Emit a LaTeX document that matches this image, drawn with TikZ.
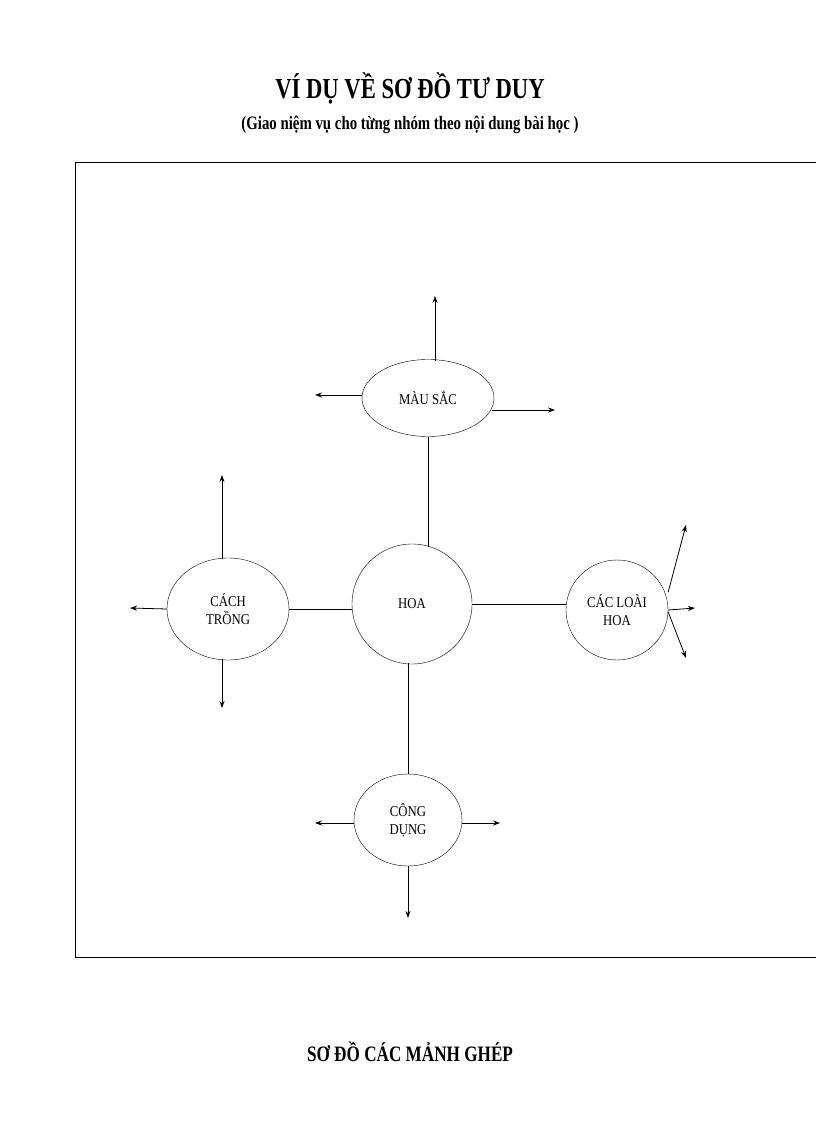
\documentclass[tikz,border=0pt]{standalone}
\usepackage{fontspec}
\setmainfont{Liberation Serif}
\usetikzlibrary{shapes.geometric,arrows.meta}
\begin{document}
\begin{tikzpicture}[x=1pt,y=-1pt,
 bub/.style={draw,ellipse,inner sep=0pt,align=center,font=\fontsize{15}{18}\selectfont},
 arr/.style={-{Stealth[length=7pt,width=5pt]},line width=0.8pt},
 lnk/.style={line width=0.6pt}]
\useasboundingbox (0,0) rectangle (816,1123);
\draw[line width=0.8pt] (816,162) -- (75,162) -- (75,957) -- (816,957);
\node[font=\bfseries\fontsize{29}{32}\selectfont] (t1) at (410,88) {\scalebox{0.78}[1]{VÍ DỤ VỀ SƠ ĐỒ TƯ DUY}};
\node[font=\bfseries\fontsize{19}{22}\selectfont] (t2) at (410,125) {\scalebox{0.78}[1]{(Giao niệm vụ cho từng nhóm theo nội dung bài học )}};
\node[font=\bfseries\fontsize{22}{26}\selectfont] (t3) at (410,1052) {\scalebox{0.78}[1]{SƠ ĐỒ CÁC MẢNH GHÉP}};
\node[bub,minimum width=132,minimum height=77] (ms) at (428,398) {\scalebox{0.85}[1]{MÀU SẮC}};
\node[bub,minimum width=120,minimum height=120] (hoa) at (412,604) {\scalebox{0.85}[1]{HOA}};
\node[bub,minimum width=122,minimum height=102] (ct) at (228,609) {\scalebox{0.85}[1]{CÁCH}\\\scalebox{0.85}[1]{TRỒNG}};
\node[bub,minimum width=102,minimum height=100] (cl) at (617,610) {\scalebox{0.85}[1]{CÁC LOÀI}\\\scalebox{0.85}[1]{HOA}};
\node[bub,minimum width=108,minimum height=92] (cd) at (408,820) {\scalebox{0.85}[1]{CÔNG}\\\scalebox{0.85}[1]{DỤNG}};
\coordinate (h1) at (428,547);
\coordinate (h2) at (408,663);
\draw[lnk] (ms.south) -- (h1);
\draw[lnk] (ct.east) -- (ct.east -| hoa.west);
\draw[lnk] (hoa.east) -- (hoa.east -| cl.west);
\draw[lnk] (h2) -- (cd.north);
\coordinate (a1) at (435,296); \coordinate (a2) at (315,395); \coordinate (a3) at (555,410);
\draw[arr] (ms.north -| a1) ++(0,2) -- (a1);
\draw[arr] (ms.west |- a2) -- (a2);
\draw[arr] (492,410) -- (a3);
\coordinate (b1) at (222,475); \coordinate (b2) at (222,708); \coordinate (b3) at (130,608);
\draw[arr] (222,559) -- (b1);
\draw[arr] (222,659) -- (b2);
\draw[arr] (ct.west) -- (b3);
\coordinate (c1) at (695,608); \coordinate (c2) at (686,525); \coordinate (c3) at (686,658);
\draw[arr] (cl.east) -- (c1);
\draw[arr] (cl.east) ++(0,-18) -- (c2);
\draw[arr] (cl.east) ++(0,2) -- (c3);
\coordinate (d1) at (315,823); \coordinate (d2) at (500,823); \coordinate (d3) at (408,918);
\draw[arr] (354,823) -- (d1);
\draw[arr] (462,823) -- (d2);
\draw[arr] (cd.south) -- (d3);
\end{tikzpicture}
\end{document}
